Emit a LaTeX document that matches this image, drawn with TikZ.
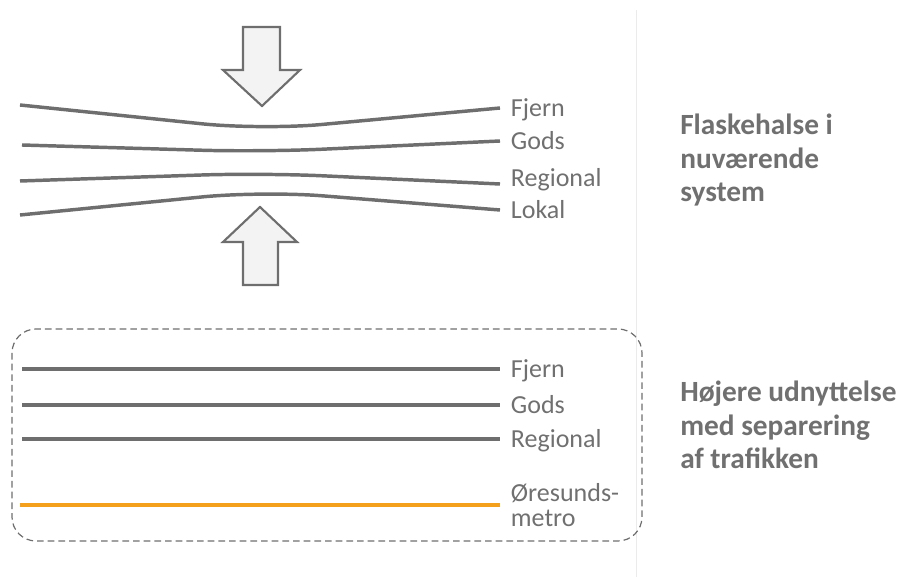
\documentclass[tikz,border=0pt]{standalone}
\usepackage{fontspec}
\setmainfont{Carlito}

\definecolor{linegray}{HTML}{6E6E6E}
\definecolor{textgray}{HTML}{707070}
\definecolor{arrowfill}{HTML}{F3F3F3}
\definecolor{metroorange}{HTML}{F4A01C}
\definecolor{divider}{HTML}{EBEBEB}

\begin{document}
\begin{tikzpicture}[
    x=0.75pt, y=-0.75pt,
    track/.style={draw=linegray, line width=2.6pt, rounded corners=45pt},
    metrotrack/.style={draw=metroorange, line width=3.5pt},
    trackname/.style={anchor=west, inner xsep=8pt, inner ysep=0pt, text=textgray,
        font=\fontsize{19.5}{19.5}\selectfont, text height=12.6pt, text depth=0pt},
    metroname/.style={anchor=west, inner xsep=8pt, inner ysep=0pt, text=textgray,
        align=left, font=\fontsize{19.5}{19}\selectfont},
    heading/.style={anchor=north west, inner sep=0pt, align=left, text=textgray,
        font=\fontsize{22}{25}\selectfont\bfseries},
    bigarrow/.style={draw=linegray, line width=1.6pt, fill=arrowfill, line join=miter},
    dashbox/.style={draw=linegray, line width=0.9pt, dash pattern=on 5pt off 3pt, rounded corners=18pt}
]

\useasboundingbox (0,0) rectangle (904,577);

% === FAINT DIVIDER ===
\draw[divider, line width=0.75pt] (636,10) -- (636,577);

% === BOTTLENECK (upper part) ===

% squeezing arrows
\draw[bigarrow] (243,27) -- (280,27) -- (280,70) -- (300,70) -- (262,106)
    -- (223,70) -- (243,70) -- cycle;
\draw[bigarrow] (260,207) -- (297,242) -- (278,242) -- (278,285) -- (243,285)
    -- (243,242) -- (223,242) -- cycle;

% track names
\node[trackname] (fjernTop) at (500,108) {Fjern};
\node[trackname] (godsTop) at (500,141) {Gods};
\node[trackname] (regionalTop) at (500,178) {Regional};
\node[trackname] (lokalTop) at (500,210) {Lokal};

% start points
\coordinate (fjernTopStart) at (20,105);
\coordinate (godsTopStart) at (22,145);
\coordinate (regionalTopStart) at (20,181);
\coordinate (lokalTopStart) at (20,215);

% squeezed tracks
\draw[track] (fjernTopStart) -- (262,130) -- (fjernTop.west);
\draw[track] (godsTopStart) -- (262,152) -- (godsTop.west);
\draw[track] (regionalTopStart) -- (262,173) -- ([yshift=-4.5pt]regionalTop.west);
\draw[track] (lokalTopStart) -- (262,191) -- (lokalTop.west);

\node[heading] (bottleneck) at (680,114) {Flaskehalse i\\nuværende\\system};

% === SEPARATED TRACKS (lower part) ===

\draw[dashbox] (12,329) rectangle (642,541);

\node[trackname] (fjernLow) at (500,369) {Fjern};
\node[trackname] (godsLow) at (500,405) {Gods};
\node[trackname] (regionalLow) at (500,439) {Regional};
\node[metroname] (metro) at (500,505) {Øresunds-\\metro};

\coordinate (fjernLowStart) at (22,369);
\coordinate (godsLowStart) at (22,405);
\coordinate (regionalLowStart) at (22,439);
\coordinate (metroStart) at (20,505);

\draw[track] (fjernLowStart) -- (fjernLow.west);
\draw[track] (godsLowStart) -- (godsLow.west);
\draw[track] (regionalLowStart) -- (regionalLow.west);
\draw[metrotrack] (metroStart) -- (metro.west);

\node[heading] (separation) at (680,381) {Højere udnyttelse\\med separering\\af trafikken};

\end{tikzpicture}
\end{document}
